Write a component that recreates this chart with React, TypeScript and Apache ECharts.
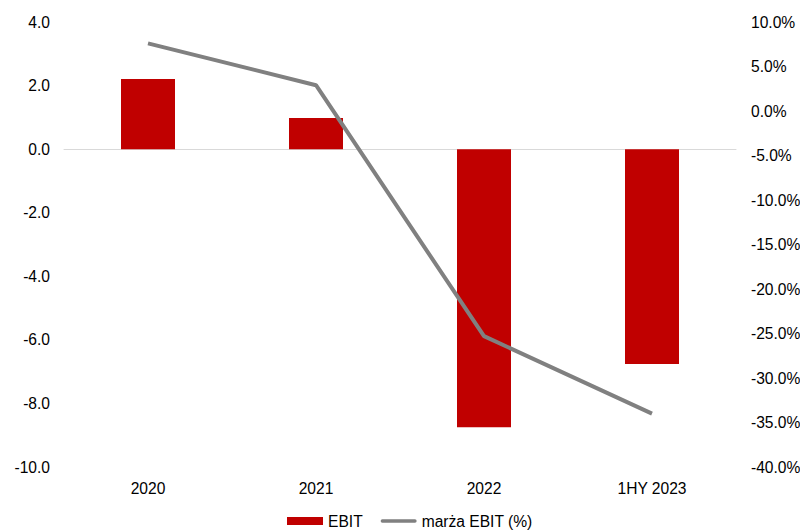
import React, { useEffect, useRef } from "react";
import * as echarts from "echarts";

const categories = ["2020", "2021", "2022", "1HY 2023"];
const ebit = [2.21, 0.98, -8.75, -6.76];
const margin = [7.6, 2.9, -25.3, -34.0];

export default function App() {
  const ref = useRef<HTMLDivElement>(null);
  useEffect(() => {
    if (!ref.current) return;
    const chart = echarts.init(ref.current, null, { renderer: "svg" });
    const font = "Liberation Sans, Arial, sans-serif";
    const fs = 15.6;
    chart.setOption({
      animation: false,
      textStyle: { fontFamily: font },
      grid: {
        left: 56,
        right: 72,
        top: 14,
        bottom: 63,
        containLabel: false,
        outerBoundsMode: "none",
      },
      legend: {
        top: 505,
        padding: 0,
        left: 279,
        itemGap: 18,
        itemWidth: 36,
        itemHeight: 8,
        textStyle: { fontSize: fs, color: "#000", fontFamily: font },
        data: [
          { name: "EBIT", icon: "rect" },
          { name: "marża EBIT (%)", icon: "path://M2,2 L36,2 A1.5,1.5 0 0 1 36,5.5 L2,5.5 A1.5,1.5 0 0 1 2,2 Z" },
        ],
      },
      xAxis: {
        type: "category",
        data: categories,
        axisTick: { show: false },
        axisLine: { onZero: true, lineStyle: { color: "#d9d9d9", width: 1 } },
        axisLabel: {
          color: "#000",
          fontSize: fs,
          fontFamily: font,
          margin: 13,
        },
        position: "bottom",
      },
      yAxis: [
        {
          type: "value",
          min: -10,
          max: 4,
          interval: 2,
          splitLine: { show: false },
          axisLine: { show: false },
          axisTick: { show: false },
          axisLabel: {
            color: "#000",
            fontSize: fs,
            fontFamily: font,
            margin: 14,
            formatter: (v: number) => v.toFixed(1),
          },
        },
        {
          type: "value",
          min: -40,
          max: 10,
          interval: 5,
          splitLine: { show: false },
          axisLine: { show: false },
          axisTick: { show: false },
          axisLabel: {
            color: "#000",
            fontSize: fs,
            fontFamily: font,
            margin: 15,
            formatter: (v: number) => v.toFixed(1) + "%",
          },
        },
      ],
      series: [
        {
          name: "EBIT",
          type: "bar",
          data: ebit,
          barWidth: 54,
          itemStyle: { color: "#c00000" },
          yAxisIndex: 0,
        },
        {
          name: "marża EBIT (%)",
          type: "line",
          data: margin,
          yAxisIndex: 1,
          symbol: "none",
          lineStyle: { color: "#808080", width: 4 },
          itemStyle: { color: "#808080" },
        },
      ],
    });
    return () => chart.dispose();
  }, []);
  return <div ref={ref} style={{ width: 800, height: 522 }} />;
}
